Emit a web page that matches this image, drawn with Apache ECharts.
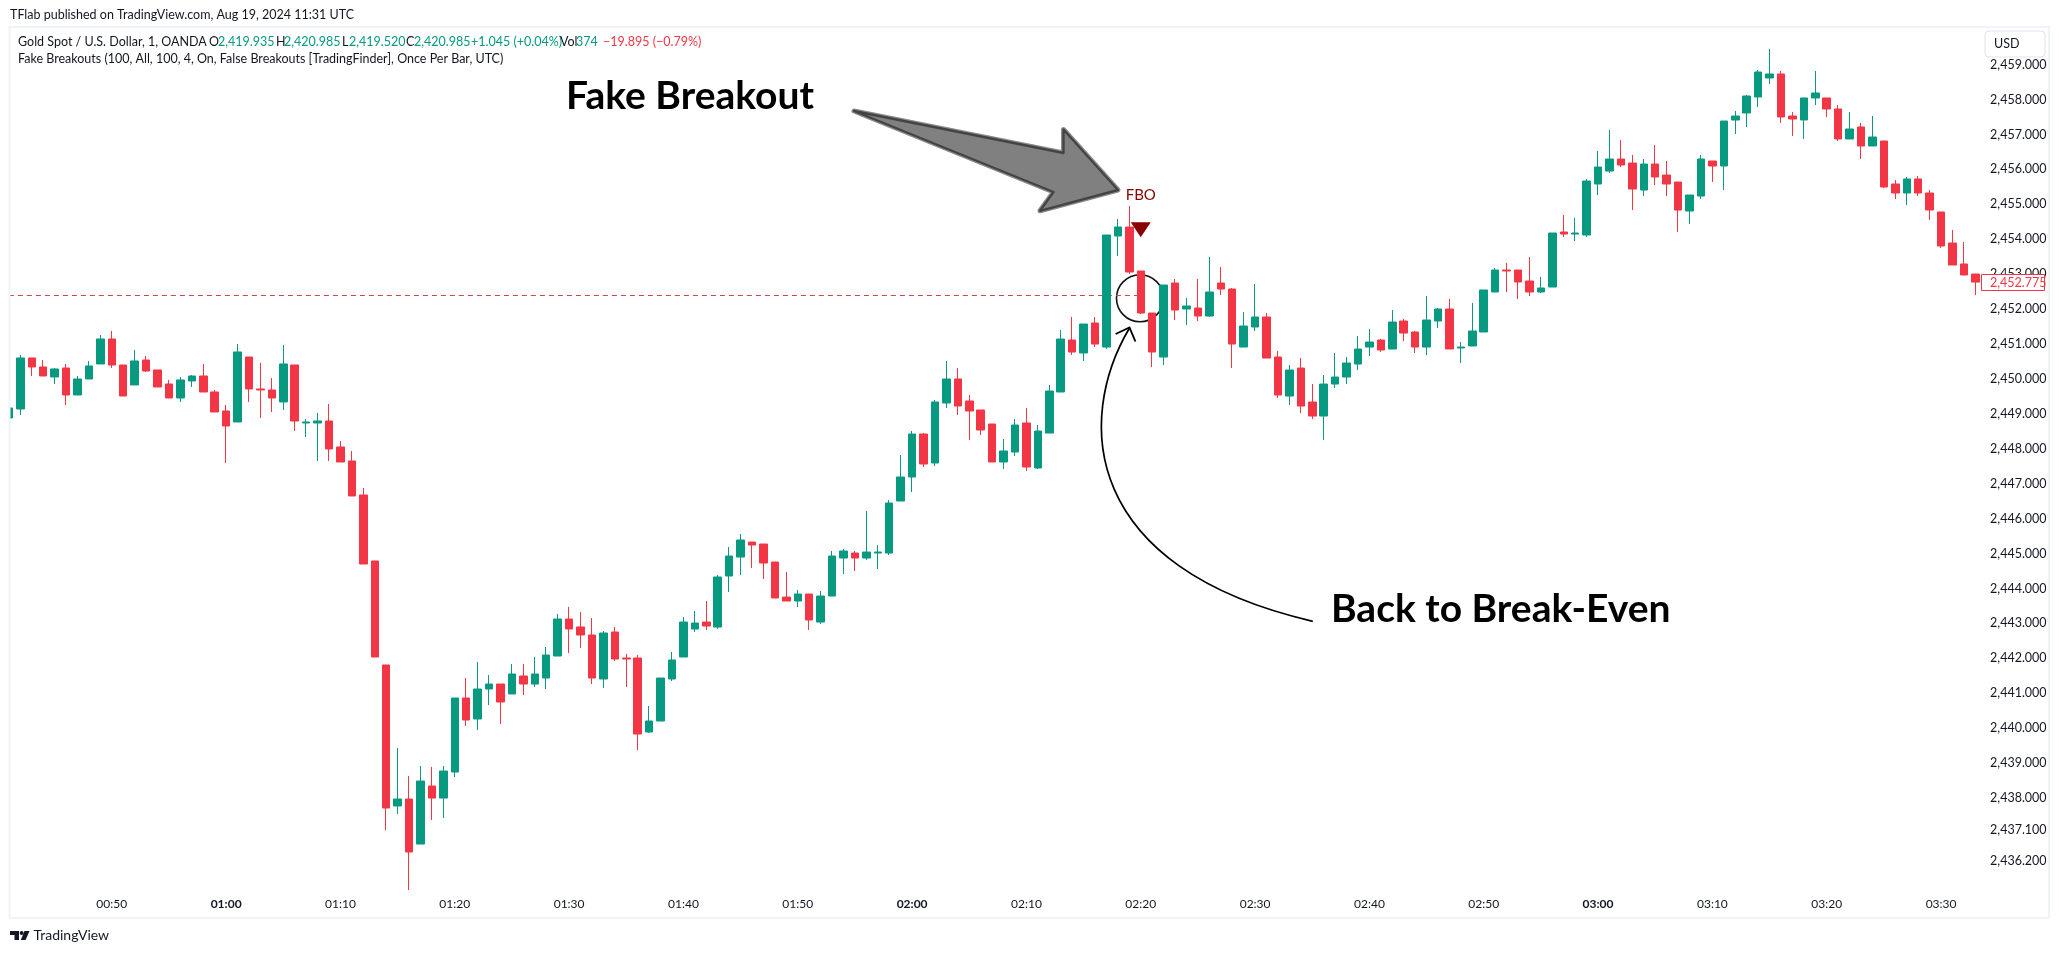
<!DOCTYPE html>
<html><head><meta charset="utf-8"><style>html,body{margin:0;padding:0;background:#fff}#c{width:2059px;height:953px}</style>
<script src="https://cdn.jsdelivr.net/npm/echarts@6/dist/echarts.min.js"></script></head><body><div id="c"></div>
<script>
const firstMinute = 41;
const opens = [
2448.883,2449.141,2450.602,2450.344,2450.058,2450.315,2449.542,2450.0,2450.43,2451.146,
2450.401,2449.829,2450.544,2450.258,2449.857,2449.456,2449.943,2450.086,2449.628,2449.084,
2448.769,2450.63,2449.714,2449.685,2449.342,2450.401,2448.74,2448.74,2448.797,2448.053,
2447.652,2446.678,2444.788,2441.81,2437.772,2437.972,2436.683,2438.344,2438.0,2438.745,
2440.865,2440.263,2441.122,2441.265,2440.979,2441.495,2441.265,2441.437,2442.067,2443.127,
2442.898,2442.669,2441.409,2442.755,2442.01,2442.01,2439.891,2440.206,2441.409,2442.039,
2442.84,2443.04,2442.897,2444.358,2444.902,2445.331,2445.274,2444.759,2443.756,2443.642,
2443.842,2443.04,2443.785,2444.873,2445.016,2444.873,2445.016,2445.016,2446.506,2447.193,
2448.424,2447.594,2449.312,2450.0,2449.37,2449.112,2448.711,2447.623,2447.909,2448.74,
2447.451,2448.452,2449.627,2451.116,2450.744,2451.603,2450.915,2454.094,2454.352,2453.092,
2451.889,2450.629,2452.748,2452.004,2452.032,2451.803,2452.748,2452.576,2450.915,2451.488,
2451.775,2450.629,2449.512,2450.314,2449.34,2448.939,2449.856,2450.056,2450.428,2450.915,
2451.116,2450.858,2451.66,2451.345,2450.915,2451.66,2452.004,2450.887,2450.945,2451.346,
2452.491,2453.121,2453.121,2452.806,2452.491,2452.634,2454.209,2454.151,2454.123,2455.583,
2455.955,2456.299,2456.184,2455.411,2456.156,2455.841,2455.64,2454.81,2455.239,2456.242,
2456.099,2457.416,2457.617,2458.075,2458.62,2458.734,2457.531,2457.417,2458.047,2458.047,
2457.732,2456.873,2457.216,2456.672,2456.815,2455.584,2455.326,2455.727,2455.326,2454.782,
2453.894,2453.293,2453.006];
const closes = [
2449.17,2450.602,2450.344,2450.086,2450.287,2449.542,2450.0,2450.373,2451.146,2450.401,
2449.513,2450.516,2450.229,2449.771,2449.456,2449.972,2450.086,2449.628,2449.055,2448.654,
2450.774,2449.714,2449.685,2449.456,2450.43,2448.797,2448.769,2448.797,2447.996,2447.623,
2446.65,2444.702,2442.039,2437.714,2437.972,2436.454,2438.487,2438.0,2438.774,2440.865,
2440.234,2441.122,2441.265,2440.75,2441.552,2441.265,2441.552,2442.096,2443.127,2442.841,
2442.669,2441.437,2442.726,2441.981,2441.981,2439.833,2440.206,2441.437,2441.953,2443.041,
2443.012,2442.926,2444.33,2444.931,2445.389,2445.245,2444.73,2443.728,2443.642,2443.842,
2443.098,2443.785,2444.931,2445.074,2444.873,2445.045,2445.045,2446.448,2447.193,2448.424,
2447.565,2449.341,2450.0,2449.226,2449.083,2448.539,2447.623,2447.938,2448.682,2447.479,
2448.51,2449.655,2451.144,2450.772,2451.574,2451.001,2454.123,2454.352,2453.063,2451.889,
2450.772,2452.691,2451.975,2452.09,2451.803,2452.491,2452.576,2451.001,2451.517,2451.775,
2450.6,2449.541,2450.257,2449.226,2448.939,2449.856,2450.056,2450.457,2450.858,2451.059,
2450.83,2451.631,2451.316,2450.915,2451.689,2452.004,2450.859,2450.916,2451.374,2452.549,
2453.121,2453.093,2452.778,2452.491,2452.606,2454.18,2454.151,2454.18,2455.669,2456.07,
2456.299,2456.127,2455.44,2456.156,2455.784,2455.583,2454.838,2455.268,2456.299,2456.099,
2457.387,2457.53,2458.104,2458.791,2458.734,2457.503,2457.445,2458.047,2458.19,2457.732,
2456.873,2457.159,2456.672,2456.93,2455.498,2455.326,2455.727,2455.326,2454.839,2453.808,
2453.264,2452.978,2452.775];
const highs = [
2449.17,2450.688,2450.602,2450.544,2450.315,2450.43,2450.086,2450.516,2451.26,2451.375,
2450.401,2450.831,2450.659,2450.258,2449.972,2450.058,2450.115,2450.43,2449.685,2449.256,
2451.003,2450.63,2450.459,2450.029,2450.974,2450.401,2448.855,2449.027,2449.284,2448.225,
2447.938,2446.878,2444.788,2441.81,2439.433,2438.63,2438.917,2438.888,2438.917,2440.865,
2441.437,2441.895,2441.523,2441.265,2441.838,2441.838,2442.039,2442.325,2443.27,2443.471,
2443.327,2443.156,2442.783,2442.898,2442.125,2442.096,2440.635,2441.437,2442.182,2443.184,
2443.356,2443.642,2444.386,2445.188,2445.561,2445.331,2445.274,2444.759,2444.472,2443.957,
2443.842,2443.928,2445.074,2445.131,2445.074,2446.219,2445.245,2446.534,2447.823,2448.51,
2448.453,2449.398,2450.515,2450.315,2449.541,2449.112,2448.711,2448.281,2448.854,2449.169,
2448.682,2449.827,2451.402,2451.775,2451.574,2451.775,2454.123,2454.581,2454.953,2453.092,
2451.889,2452.691,2452.863,2452.319,2452.863,2453.493,2453.206,2452.605,2451.918,2452.72,
2451.889,2450.801,2450.4,2450.6,2449.856,2450.114,2450.744,2450.629,2451.23,2451.431,
2451.144,2451.975,2451.717,2451.374,2452.376,2452.032,2452.291,2451.059,2452.176,2452.549,
2453.178,2453.322,2453.121,2453.494,2452.921,2454.18,2454.695,2454.609,2455.726,2456.528,
2457.13,2456.843,2456.414,2456.299,2456.7,2456.242,2455.64,2455.268,2456.414,2456.242,
2457.387,2457.674,2458.133,2458.849,2459.45,2458.82,2457.646,2458.047,2458.82,2458.047,
2457.846,2457.646,2457.331,2457.531,2456.815,2455.698,2455.784,2455.813,2455.412,2454.782,
2454.267,2453.923,2453.006];
const lows = [
2448.883,2448.969,2450.086,2450.086,2449.857,2449.256,2449.542,2450.0,2450.43,2450.315,
2449.513,2449.829,2450.2,2449.771,2449.456,2449.342,2449.771,2449.628,2449.055,2447.595,
2448.769,2449.342,2448.883,2449.055,2449.113,2448.511,2448.339,2447.652,2447.652,2447.623,
2446.65,2444.702,2442.039,2437.084,2437.542,2435.366,2436.683,2437.37,2437.428,2438.602,
2440.062,2439.948,2440.664,2440.12,2440.979,2440.95,2441.18,2441.122,2442.067,2442.153,
2442.296,2441.265,2441.151,2441.924,2441.18,2439.375,2439.862,2440.206,2441.351,2442.039,
2442.754,2442.811,2442.84,2443.9,2444.386,2444.587,2444.272,2443.728,2443.642,2443.47,
2442.811,2442.983,2443.785,2444.415,2444.501,2444.816,2444.558,2444.959,2446.506,2446.763,
2447.479,2447.508,2449.169,2448.969,2448.253,2448.396,2447.623,2447.422,2447.794,2447.365,
2447.422,2448.452,2449.627,2450.686,2450.514,2450.915,2450.858,2453.522,2453.006,2451.86,
2450.343,2450.4,2451.689,2451.545,2451.66,2451.775,2452.405,2450.314,2450.915,2451.374,
2450.6,2449.455,2449.254,2449.025,2448.853,2448.25,2449.741,2449.856,2450.257,2450.658,
2450.773,2450.858,2451.087,2450.744,2450.686,2451.46,2450.859,2450.458,2450.945,2451.346,
2452.491,2452.491,2452.291,2452.377,2452.463,2452.634,2454.065,2453.951,2454.065,2455.268,
2455.898,2456.07,2454.838,2455.239,2455.554,2455.239,2454.208,2454.438,2455.153,2455.64,
2455.411,2457.015,2457.216,2457.789,2458.448,2457.331,2456.958,2456.873,2457.846,2457.503,
2456.815,2456.873,2456.3,2456.672,2455.469,2455.154,2454.982,2455.24,2454.553,2453.751,
2453.264,2452.978,2452.405];
const priceTicks = [2436.2,2437.1,2438,2439,2440,2441,2442,2443,2444,2445,2446,2447,2448,2449,2450,2451,2452,2453,2454,2455,2456,2457,2458,2459];
const lastPrice = 2452.775;
const levelPrice = 2452.396;
const levelStart = '00:41', levelEnd = '02:20';
const signalTime = '02:20', signalPrice = 2454.272;

const pad = n => String(n).padStart(2,'0');
const categories = opens.map((_,i)=>{const m=firstMinute+i;return pad(Math.floor(m/60))+':'+pad(m%60);});
const fmtPrice = v => v.toLocaleString('en-US',{minimumFractionDigits:3,maximumFractionDigits:3});

const UI = 'Lato, "Noto Sans", sans-serif';
const INK = '#131722', UP = '#089981', DOWN = '#f23645', MAROON = '#880000';

function label(x,y,text,fill,font){
  return {type:'text',x,y,z:100,silent:true,style:{text,fill:fill||INK,font:font||('12.5px '+UI),align:'left',verticalAlign:'middle'}};
}
const headerRow = [
 [18,'Gold Spot / U.S. Dollar, 1, OANDA',INK],[209,'O',INK],[218,'2,419.935',UP],[276,'H',INK],[284,'2,420.985',UP],
 [342,'L',INK],[349,'2,419.520',UP],[406,'C',INK],[414,'2,420.985',UP],[471,'+1.045 (+0.04%)',UP],
 [560,'Vol',INK],[576,'374',UP],[603,'\u221219.895 (\u22120.79%)',DOWN]
];
const arrowPts = [[854,111],[1063.5,153],[1063.5,129.5],[1118,190],[1040,210.8],[1053.5,192]];
const elements = [
 {type:'circle',z:1,silent:true,shape:{cx:1140,cy:298.3,r:23.5},style:{fill:null,stroke:'#111',lineWidth:1.6}},
 {type:'rect',z:90,silent:true,shape:{x:0,y:0,width:9.5,height:953},style:{fill:'#fff'}},
 {type:'rect',z:91,silent:true,shape:{x:9.5,y:27,width:2039.5,height:891},style:{fill:null,stroke:'#f0f3fa',lineWidth:2}},
 {type:'polygon',z:92,silent:true,shape:{points:arrowPts},style:{fill:'#808080',stroke:'#8c8c8c',lineWidth:5,lineJoin:'round'}},
 {type:'polygon',z:93,silent:true,shape:{points:arrowPts},style:{fill:'#808080',stroke:'#444',lineWidth:2.4,lineJoin:'round'}},
 {type:'bezierCurve',z:92,silent:true,shape:{x1:1312.8,y1:621.3,cpx1:1082,cpy1:568,cpx2:1075,cpy2:420,x2:1129.5,y2:328},style:{fill:null,stroke:'#000',lineWidth:1.7}},
 {type:'polyline',z:92,silent:true,shape:{points:[[1115.6,334],[1129.5,327.5],[1135.4,341.5]]},style:{fill:null,stroke:'#000',lineWidth:1.9}},
 {type:'rect',z:94,silent:true,shape:{x:1985,y:31,width:60,height:26,r:4},style:{fill:'#fff',stroke:'#e0e3eb',lineWidth:1}},
 label(1994,43.5,'USD'),
 {type:'rect',z:94,silent:true,shape:{x:1981.5,y:274.5,width:63,height:16},style:{fill:'#fff',stroke:DOWN,lineWidth:1}},
 label(1990,282.7,fmtPrice(lastPrice),DOWN),
 label(10,15,'TFlab published on TradingView.com, Aug 19, 2024 11:31 UTC'),
 label(18,58.7,'Fake Breakouts (100, All, 100, 4, On, False Breakouts [TradingFinder], Once Per Bar, UTC)'),
 label(566,96,'Fake Breakout','#000','bold 39px '+UI),
 label(1331,609,'Back to Break-Even','#000','bold 39px '+UI),
 {type:'polygon',z:95,silent:true,shape:{points:[[10,931],[19,931],[19,940],[14.5,940],[14.5,935],[10,935]]},style:{fill:INK}},
 {type:'circle',z:95,silent:true,shape:{cx:21.6,cy:933,r:2},style:{fill:INK}},
 {type:'polygon',z:95,silent:true,shape:{points:[[24.5,931],[29.5,931],[25.6,940],[20.8,940]]},style:{fill:INK}},
 label(33.5,935,'TradingView',INK,'14px '+UI)
].concat(headerRow.map(r=>label(r[0],41.7,r[1],r[2])));

const chart = echarts.init(document.getElementById('c'),null,{renderer:'canvas',width:2059,height:953});
chart.setOption({
  animation:false,
  backgroundColor:'#fff',
  grid:{left:3.18,top:28,width:1977.9,height:863,containLabel:false},
  xAxis:{type:'category',data:categories,boundaryGap:true,axisLine:{show:false},axisTick:{show:false},splitLine:{show:false},
    axisLabel:{color:INK,fontFamily:'Lato',fontSize:12,margin:7,interval:(i,v)=>v.endsWith('0'),
      formatter:v=>v.endsWith(':00')?'{b|'+v+'}':v,rich:{b:{fontWeight:'bold',fontFamily:'Lato',fontSize:12,color:INK}}}},
  yAxis:{type:'value',position:'right',min:2435.338,max:2460.051,axisLine:{show:false},axisTick:{show:false},splitLine:{show:false},
    axisLabel:{color:INK,fontFamily:'Lato',fontSize:12.5,margin:9,customValues:priceTicks,formatter:v=>fmtPrice(v)}},
  series:[{
    type:'candlestick',barWidth:8,clip:true,
    data:categories.map((_,i)=>[opens[i],closes[i],lows[i],highs[i]]),
    itemStyle:{color:UP,color0:DOWN,borderColor:UP,borderColor0:DOWN,borderWidth:1},
    markLine:{silent:true,symbol:'none',z:1,animation:false,label:{show:false},lineStyle:{color:'#cd4750',type:[5,4],width:1},
      data:[[{coord:[levelStart,levelPrice]},{coord:[levelEnd,levelPrice]}]]},
    markPoint:{silent:true,animation:false,data:[{coord:[signalTime,signalPrice],symbol:'triangle',symbolRotate:180,symbolSize:[20,15],
      itemStyle:{color:MAROON},label:{show:true,position:'top',distance:20,formatter:'FBO',color:MAROON,fontFamily:'Lato',fontSize:15}}]}
  }],
  graphic:{elements}
});
</script></body></html>
